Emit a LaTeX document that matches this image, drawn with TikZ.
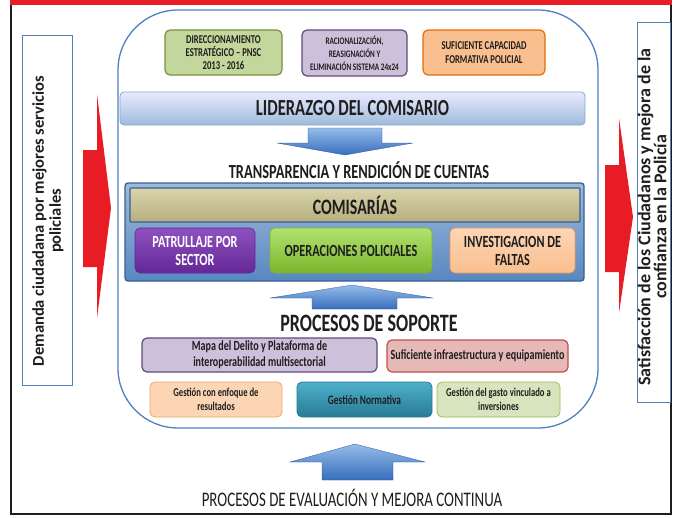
\documentclass[tikz,border=0pt]{standalone}
\usepackage{fontspec}
\setmainfont{Carlito}
\newfontfamily\cnd[FakeStretch=0.72]{Carlito}
\usetikzlibrary{shadings}
\definecolor{figline}{RGB}{30,30,30}
\definecolor{frmblue}{RGB}{79,129,189}
\definecolor{frmred}{RGB}{232,28,36}
\definecolor{grnf}{RGB}{195,214,155}
\definecolor{grnd}{RGB}{118,146,60}
\definecolor{purf}{RGB}{204,192,218}
\definecolor{purd}{RGB}{96,74,123}
\definecolor{ornf}{RGB}{250,191,143}
\definecolor{ornl}{RGB}{252,213,181}
\definecolor{ornd}{RGB}{228,108,10}
\definecolor{redf}{RGB}{230,185,184}
\definecolor{redd}{RGB}{192,80,77}
\definecolor{gasf}{RGB}{215,228,189}
\definecolor{gasd}{RGB}{155,187,89}
\definecolor{navy}{RGB}{55,96,146}
\definecolor{arrl}{RGB}{150,188,232}
\definecolor{arrd}{RGB}{55,110,190}
\definecolor{khakl}{RGB}{218,212,172}
\definecolor{khakd}{RGB}{182,174,126}
\definecolor{patl}{RGB}{142,82,192}
\definecolor{patd}{RGB}{100,40,150}
\definecolor{opel}{RGB}{178,226,112}
\definecolor{oped}{RGB}{122,182,44}
\definecolor{norl}{RGB}{78,176,202}
\definecolor{nord}{RGB}{40,122,148}
\tikzset{
  bx/.style   ={rounded corners=5pt, line width=1.2pt, align=center, inner sep=1pt, text=figline},
  ttl/.style  ={inner sep=1pt, text=figline},
  side/.style ={draw=frmblue, line width=0.9pt, fill=white},
  barw/.style ={fill=frmred},
  blk/.style  ={draw=arrd!80!black, line width=0.3pt, top color=arrl, bottom color=arrd},
}
\newcommand{\fz}[2]{\fontsize{#1}{#2}\selectfont}

\begin{document}
\begin{tikzpicture}[x=1pt,y=-1pt]
  \useasboundingbox (0,0) rectangle (675,517);
  \fill[white] (0,0) rectangle (675,517);
  \draw[figline,line width=1.6pt] (11,4) -- (11,514) -- (671,514) -- (671,4);
  \fill[frmred] (10,0) rectangle (672,5);
  \draw[draw=frmblue,line width=1.3pt,rounded corners=60pt] (118,10) rectangle (598,428);
  \node[side,minimum width=50pt,minimum height=350pt] (dem) at (47,210) {};
  \node[ttl,rotate=90,align=center,font=\bfseries\fz{16.5}{17}] (demt) at (48,221) {Demanda ciudadana por mejores servicios\\policiales};
  \node[side,minimum width=33pt,minimum height=380pt] (sat) at (653.5,212) {};
  \node[ttl,rotate=90,align=center,font=\bfseries\fz{18}{16}] (satt) at (652,217) {Satisfacción de los Ciudadanos y mejora de la\\confianza en la Policía};
  \fill[barw] (83,150) -- (97,150) -- (97,94) -- (111,208) -- (97,318) -- (97,267) -- (83,267) -- cycle;
  \fill[barw] (605,165) -- (619,165) -- (619,118) -- (633,217) -- (619,313) -- (619,272) -- (605,272) -- cycle;
  \node[bx,draw=grnd,fill=grnf,minimum width=117pt,minimum height=45pt,font=\cnd\bfseries\fz{12}{13}] (dir) at (223.5,52.5) {DIRECCIONAMIENTO\\ESTRATÉGICO – PNSC\\2013 - 2016};
  \node[bx,draw=purd,fill=purf,minimum width=105pt,minimum height=46pt,font=\cnd\bfseries\fz{10}{13}] (rac) at (354.5,53) {RACIONALIZACIÓN,\\REASIGNACIÓN Y\\ELIMINACIÓN SISTEMA 24x24};
  \node[bx,draw=ornd,fill=ornf,minimum width=122pt,minimum height=45pt,font=\cnd\bfseries\fz{12}{14}] (suf) at (484,52.5) {SUFICIENTE CAPACIDAD\\FORMATIVA POLICIAL};
  \node[bx,rounded corners=4pt,line width=0.8pt,draw=frmblue!70,top color=blue!8!white,bottom color=frmblue!55,minimum width=465pt,minimum height=33pt,font=\cnd\bfseries\fz{23}{26}] (lid) at (352.5,108.5) {LIDERAZGO DEL COMISARIO};
  \draw[blk] (308,128) -- (382,128) -- (382,143) -- (413,143) -- (345,155) -- (277,143) -- (308,143) -- cycle;
  \node[ttl,font=\cnd\bfseries\fz{20}{22}] (trn) at (359,170) {TRANSPARENCIA Y RENDICIÓN DE CUENTAS};
  \node[bx,rounded corners=3pt,line width=1.3pt,draw=navy,top color=frmblue!55,bottom color=frmblue!95,minimum width=459pt,minimum height=98pt] (com) at (354.5,232) {};
  \node[bx,rounded corners=1pt,line width=1.2pt,draw=navy,top color=khakl,bottom color=khakd,minimum width=450pt,minimum height=34pt,font=\cnd\bfseries\fz{22}{24}] (comb) at (355,205) {COMISARÍAS};
  \node[bx,line width=0.6pt,draw=patd,top color=patl,bottom color=patd,text=white,minimum width=120pt,minimum height=45pt,font=\cnd\bfseries\fz{17}{18}] (pat) at (195,250.5) {PATRULLAJE POR\\SECTOR};
  \node[bx,line width=0.6pt,draw=oped,top color=opel,bottom color=oped,minimum width=162pt,minimum height=45pt,font=\cnd\bfseries\fz{17}{18}] (ope) at (351,250.5) {OPERACIONES POLICIALES};
  \node[bx,line width=0.6pt,draw=ornd!70,top color=ornl,bottom color=ornf,minimum width=125pt,minimum height=45pt,font=\cnd\bfseries\fz{17}{18}] (inv) at (512.5,250.5) {INVESTIGACION DE\\FALTAS};
  \draw[blk] (312,309) -- (312,298) -- (270,298) -- (352,285) -- (433,298) -- (397,298) -- (397,309) -- cycle;
  \node[ttl,font=\cnd\bfseries\fz{25}{27}] (sop) at (369,323) {PROCESOS DE SOPORTE};
  \node[bx,draw=purd,fill=purf,minimum width=235pt,minimum height=34pt,font=\cnd\bfseries\fz{14}{16}] (map) at (259.5,355) {Mapa del Delito y Plataforma de\\interoperabilidad multisectorial};
  \node[bx,draw=redd,fill=redf,minimum width=181pt,minimum height=32pt,font=\cnd\bfseries\fz{14}{16}] (inf) at (477.5,356) {Suficiente infraestructura y equipamiento};
  \node[bx,line width=0.8pt,draw=ornd!60,fill=ornl,minimum width=132pt,minimum height=35pt,font=\cnd\bfseries\fz{12}{14}] (gen) at (216,399.5) {Gestión con enfoque de\\resultados};
  \node[bx,line width=0.8pt,draw=nord,top color=norl,bottom color=nord,minimum width=135pt,minimum height=35pt,font=\cnd\bfseries\fz{13}{15}] (nor) at (364.5,399.5) {Gestión Normativa};
  \node[bx,line width=0.8pt,draw=gasd,fill=gasf,minimum width=123pt,minimum height=35pt,font=\cnd\bfseries\fz{12}{14}] (gas) at (498.5,399.5) {Gestión del gasto vinculado a\\inversiones};
  \draw[blk] (322,480) -- (322,462) -- (290,462) -- (355,444) -- (425,462) -- (393,462) -- (393,480) -- cycle;
  \node[ttl,font=\cnd\fz{20.7}{22}] (eva) at (352,498) {PROCESOS DE EVALUACIÓN Y MEJORA CONTINUA};
\end{tikzpicture}
\end{document}
